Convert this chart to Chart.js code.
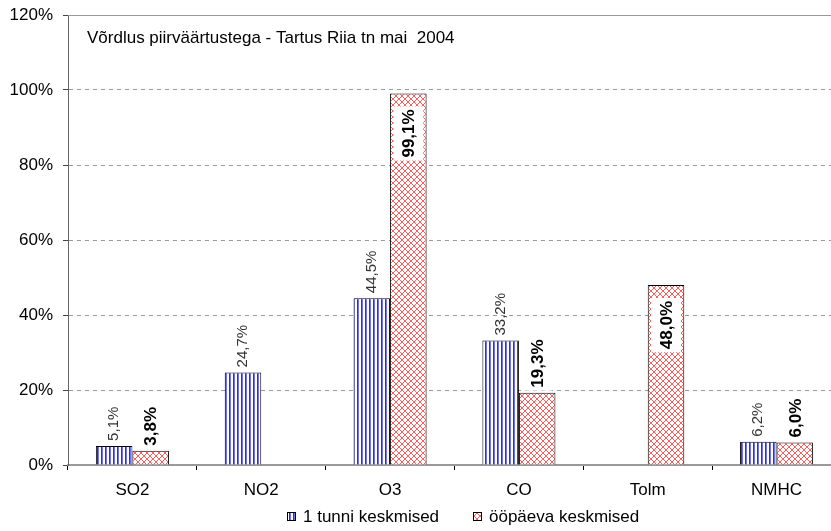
<!DOCTYPE html>
<html>
<head>
<meta charset="utf-8">
<script src="https://cdn.jsdelivr.net/npm/chart.js@4/dist/chart.umd.min.js"></script>
<style>
  html, body { margin: 0; padding: 0; background: #fff; overflow: hidden; }
  #wrap { width: 841px; height: 531px; }
</style>
</head>
<body>
<div id="wrap"><canvas id="myChart" width="841" height="531"></canvas></div>
<script>
// andmed
var categories = ["SO2", "NO2", "O3", "CO", "Tolm", "NMHC"];
var tunniKeskmised = [5.1, 24.7, 44.5, 33.2, null, 6.2];
var paevaKeskmised = [3.8, null, 99.1, 19.3, 48.0, 6.0];
var seriesNames = ["1 tunni keskmised", "ööpäeva keskmised"];
var chartTitle = "Võrdlus piirväärtustega - Tartus Riia tn mai  2004";

var FONT = "'Liberation Sans', Arial, sans-serif";

// mustrid tulpade jaoks
function stripePattern() {
  var c = document.createElement("canvas");
  c.width = 4; c.height = 4;
  var g = c.getContext("2d");
  g.fillStyle = "#fff"; g.fillRect(0, 0, 4, 4);
  g.fillStyle = "#2a2aff"; g.fillRect(1, 0, 1, 4);
  g.fillStyle = "#7070ff"; g.fillRect(2, 0, 1, 4);
  return g.createPattern(c, "repeat");
}
function crossPattern() {
  var c = document.createElement("canvas");
  c.width = 6; c.height = 6;
  var g = c.getContext("2d");
  g.fillStyle = "#fff"; g.fillRect(0, 0, 6, 6);
  g.strokeStyle = "#ff5c5c"; g.lineWidth = 1;
  g.beginPath();
  g.moveTo(0, 0); g.lineTo(6, 6);
  g.moveTo(6, 0); g.lineTo(0, 6);
  g.stroke();
  return g.createPattern(c, "repeat");
}

function fmt(v) {
  return v.toFixed(1).replace(".", ",") + "%";
}

// väärtuste sildid, pealkiri ja legend
var extras = {
  id: "extras",
  afterDatasetsDraw: function (chart) {
    var ctx = chart.ctx;
    chart.data.datasets.forEach(function (ds, di) {
      var meta = chart.getDatasetMeta(di);
      meta.data.forEach(function (bar, i) {
        var v = ds.data[i];
        if (v === null || v === undefined) return;
        var txt = fmt(v);
        ctx.save();
        ctx.translate(bar.x, bar.y);
        ctx.rotate(-Math.PI / 2);
        ctx.textBaseline = "middle";
        ctx.textAlign = "left";
        if (di === 0) {
          ctx.font = "15px " + FONT;
          ctx.fillStyle = "#333";
          ctx.fillText(txt, 5, 0);
        } else {
          ctx.font = "bold 17px " + FONT;
          var w = ctx.measureText(txt).width;
          var start = v > 40 ? -(16 + w) : 5;
          ctx.fillStyle = "#fff";
          ctx.fillRect(start - 3, -15, w + 6, 30);
          ctx.fillStyle = "#000";
          ctx.fillText(txt, start, 1);
        }
        ctx.restore();
      });
    });
  },
  afterDraw: function (chart) {
    var ctx = chart.ctx;
    var a = chart.chartArea;
    ctx.save();
    // ülemine piirjoon
    ctx.strokeStyle = "#999";
    ctx.lineWidth = 1;
    ctx.beginPath();
    ctx.moveTo(a.left, a.top + 0.5);
    ctx.lineTo(a.right, a.top + 0.5);
    ctx.stroke();
    // pealkiri
    ctx.font = "17px " + FONT;
    ctx.fillStyle = "#000";
    ctx.textBaseline = "middle";
    ctx.textAlign = "left";
    ctx.fillText(chartTitle, 87, 38);
    // legend
    var pos = [287, 473];
    chart.data.datasets.forEach(function (ds, di) {
      var x = pos[di], y = 517;
      ctx.fillStyle = ds.backgroundColor;
      ctx.fillRect(x, y - 5, 9, 9);
      ctx.strokeStyle = "#000";
      ctx.strokeRect(x + 0.5, y - 4.5, 8, 8);
      ctx.fillStyle = "#000";
      ctx.font = "17px " + FONT;
      ctx.fillText(ds.label, x + 16, y);
    });
    ctx.restore();
  }
};

var ctx = document.getElementById("myChart");
var config = {
  type: "bar",
  data: {
    labels: categories,
    datasets: [
      {
        label: seriesNames[0],
        data: tunniKeskmised,
        backgroundColor: stripePattern(),
        borderColor: "#000",
        borderWidth: 1,
        categoryPercentage: 0.567,
        barPercentage: 1.0,
      },
      {
        label: seriesNames[1],
        data: paevaKeskmised,
        backgroundColor: crossPattern(),
        borderColor: "#000",
        borderWidth: 1,
        categoryPercentage: 0.567,
        barPercentage: 1.0,
      },
    ],
  },
  options: {
    responsive: false,
    animation: false,
    layout: {
      padding: { top: 15, right: 0, bottom: 21, left: 0 },
    },
    plugins: {
      legend: { display: false },
      tooltip: { enabled: false },
    },
    scales: {
      x: {
        grid: {
          offset: true,
          drawOnChartArea: false,
          drawTicks: true,
          tickLength: 5,
          color: "#000",
        },
        border: { color: "#999", width: 2 },
        ticks: {
          color: "#000",
          padding: 10,
          font: { family: FONT, size: 17 },
        },
        afterFit: function (scale) { scale.height = 45; },
      },
      y: {
        min: 0,
        max: 120,
        grid: {
          color: "#999",
          tickColor: "#444",
          tickLength: 5,
          tickBorderDash: [],
        },
        border: { color: "#666", width: 1, dash: [4, 4] },
        ticks: {
          stepSize: 20,
          color: "#000",
          padding: 10,
          font: { family: FONT, size: 17, lineHeight: 0.5 },
          callback: function (v) { return v + "%"; },
        },
        afterFit: function (scale) { scale.width = 68; },
      },
    },
  },
  plugins: [extras],
};

var myBarChart = new Chart(ctx, config);
</script>
</body>
</html>
